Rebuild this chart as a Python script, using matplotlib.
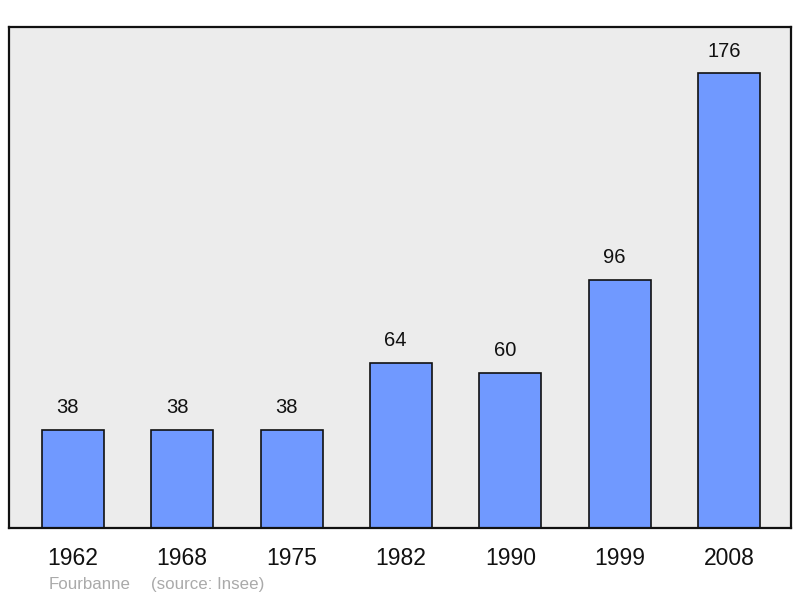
import matplotlib
matplotlib.use('Agg')
import matplotlib.pyplot as plt

plt.rcParams['font.family'] = ['Liberation Sans', 'DejaVu Sans']

years = ['1962', '1968', '1975', '1982', '1990', '1999', '2008']
population = [38, 38, 38, 64, 60, 96, 176]
commune = 'Fourbanne'
source = '(source: Insee)'

fig = plt.figure(figsize=(8, 5.98), dpi=100)
ax = fig.add_axes([9/800, 1 - 528/598, 782/800, 501/598])
ax.set_facecolor('#ececec')

x = list(range(len(years)))
bars = ax.bar(x, population, width=0.566, color='#7099ff',
              edgecolor='#111111', linewidth=1.2, zorder=2)
for xi, v in zip(x, population):
    ax.annotate(str(v), (xi, v), xytext=(-3.8, 9), textcoords='offset points',
                ha='center', va='bottom', fontsize=14.5, color='#111111')

ax.set_xlim(-0.584, 6.566)
ax.set_ylim(0, 193.8)
ax.set_yticks([])
ax.set_xticks(x)
ax.set_xticklabels(years, fontsize=16.5, color='#111111')
ax.tick_params(axis='x', length=0, pad=14)
for s in ax.spines.values():
    s.set_linewidth(1.6)
    s.set_color('#111111')

# footnote, both parts on one baseline
fig.text(49/800, 1 - 589/598, commune, fontsize=12.2,
         color='#aaaaaa', va='baseline', ha='left')
fig.text(151/800, 1 - 589/598, source, fontsize=12.2,
         color='#aaaaaa', va='baseline', ha='left')

fig.savefig('out.png', dpi=100)
